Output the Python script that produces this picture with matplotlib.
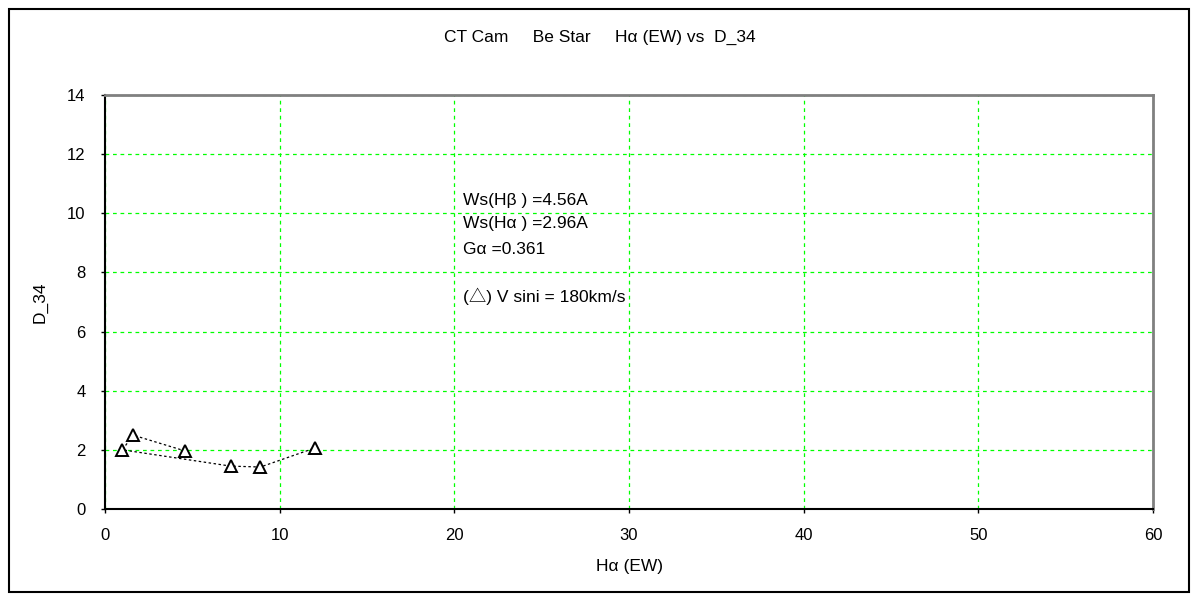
import matplotlib
matplotlib.use("Agg")
from matplotlib import pyplot as plt
from matplotlib.patches import Rectangle

plt.rcParams['font.family'] = ['Liberation Sans', 'Noto Sans CJK JP', 'DejaVu Sans']

# data (in drawing order of the connecting line)
ha_ew = [4.6, 1.6, 1.0, 7.2, 8.9, 12.0]
d34 = [1.96, 2.5, 2.0, 1.45, 1.42, 2.06]

x_ticks = [0, 10, 20, 30, 40, 50, 60]
y_ticks = [0, 2, 4, 6, 8, 10, 12, 14]

title = "CT Cam     Be Star     H\u03b1 (EW) vs  D_34"
notes = ["Ws(H\u03b2 ) =4.56A", "Ws(H\u03b1 ) =2.96A", "G\u03b1 =0.361"]
note_y = [10.42, 9.64, 8.79]
vsini_note = "(\u25b3) V sini = 180km/s"

fig = plt.figure(figsize=(12, 6), dpi=100)
ax = fig.add_axes([105/1200, 1-509/600, 1048/1200, 414/600])

ax.plot(ha_ew, d34, color='black', lw=0.9, linestyle=(0, (2, 2)),
        marker='^', markersize=8, markerfacecolor='white',
        markeredgecolor='black', markeredgewidth=1.4, zorder=3)

ax.set_xlim(0, 60)
ax.set_ylim(0, 14)
ax.set_xticks(x_ticks)
ax.set_yticks(y_ticks)
ax.grid(True, color='#00ff00', linestyle=(0, (3, 3)), lw=0.9)
ax.tick_params(direction='out', length=3, width=1, labelsize=12, pad=11)

for side in ['top', 'right']:
    ax.spines[side].set_color('#808080')
    ax.spines[side].set_linewidth(2)
for side in ['left', 'bottom']:
    ax.spines[side].set_color('black')
    ax.spines[side].set_linewidth(1.5)

ax.set_xlabel("H\u03b1 (EW)", fontsize=12.5, labelpad=11)
ax.set_ylabel("D_34", fontsize=12.5, labelpad=14)
fig.text(0.5, 1-37/600, title, ha='center', va='center', fontsize=12.5)

for txt, yy in zip(notes, note_y):
    ax.text(20.5, yy, txt, ha='left', va='center', fontsize=12.5)
ax.text(20.5, 7.2, vsini_note, ha='left', va='center', fontsize=12.5)

# outer frame
fig.patches.append(Rectangle((9/1200, 8/600), 1180/1200, 583/600,
                             transform=fig.transFigure, fill=False,
                             edgecolor='black', lw=1.5))

fig.savefig('out.png', dpi=100)
